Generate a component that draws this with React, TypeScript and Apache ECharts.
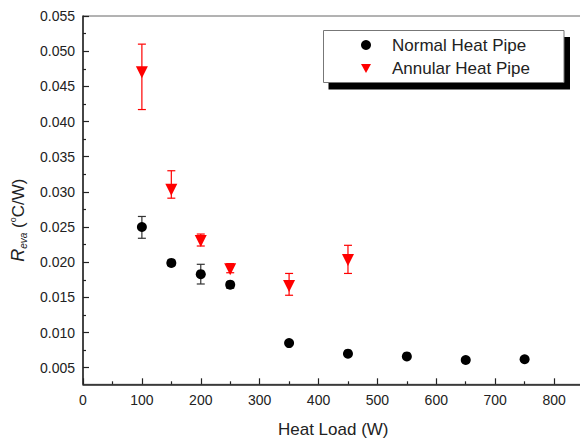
import React, { useEffect, useRef } from "react";
import * as echarts from "echarts";

const normalLoad = [100, 150, 200, 250, 350, 450, 550, 650, 750];
const normalR = [0.025, 0.0199, 0.0183, 0.0168, 0.0085, 0.007, 0.0066, 0.0061, 0.0062];
const normalLow = [0.0234, 0.0195, 0.0169, 0.0163, 0.0083, 0.0068, 0.0064, 0.0059, 0.006];
const normalHigh = [0.0265, 0.0203, 0.0197, 0.0172, 0.0087, 0.0072, 0.0068, 0.0063, 0.0064];

const annularLoad = [100, 150, 200, 250, 350, 450];
const annularR = [0.047, 0.0303, 0.023, 0.019, 0.0166, 0.0203];
const annularLow = [0.0417, 0.0291, 0.0223, 0.0185, 0.0153, 0.0184];
const annularHigh = [0.051, 0.033, 0.024, 0.0198, 0.0184, 0.0224];

const xTicks = [0, 100, 200, 300, 400, 500, 600, 700, 800];
const xMinorTicks = [50, 150, 250, 350, 450, 550, 650, 750];
const yTicks = [0.005, 0.01, 0.015, 0.02, 0.025, 0.03, 0.035, 0.04, 0.045, 0.05, 0.055];
const yMinorTicks = [0.0075, 0.0125, 0.0175, 0.0225, 0.0275, 0.0325, 0.0375, 0.0425, 0.0475, 0.0525];

const seriesNames = ["Normal Heat Pipe", "Annular Heat Pipe"];

const FONT = "'Liberation Sans', Arial, sans-serif";

function errorRenderer(color: string) {
  return (params: any, api: any) => {
    const x = api.value(0);
    const lo = api.coord([x, api.value(1)]);
    const hi = api.coord([x, api.value(2)]);
    const hw = 4;
    const style = { stroke: color, lineWidth: 1.2 };
    return {
      type: "group",
      children: [
        { type: "line", shape: { x1: lo[0], y1: lo[1], x2: hi[0], y2: hi[1] }, style },
        { type: "line", shape: { x1: lo[0] - hw, y1: lo[1], x2: lo[0] + hw, y2: lo[1] }, style },
        { type: "line", shape: { x1: hi[0] - hw, y1: hi[1], x2: hi[0] + hw, y2: hi[1] }, style },
      ],
    };
  };
}

export default function App() {
  const ref = useRef<HTMLDivElement>(null);
  useEffect(() => {
    if (!ref.current) return;
    const chart = echarts.init(ref.current, null, { renderer: "svg" });
    const xMin = 0, xMax = 850, yMin = 0.00264, yMax = 0.055;
    const axisColor = "#222";
    chart.setOption({
      animation: false,
      backgroundColor: "#fff",
      textStyle: { fontFamily: FONT },
      grid: {
        left: 83,
        top: 16,
        width: 500.5,
        height: 368.3,
        show: true,
        borderColor: "#666",
        borderWidth: 1,
        backgroundColor: "transparent",
        containLabel: false,
        outerBoundsMode: "none",
      },
      xAxis: [
        {
          type: "value",
          min: xMin,
          max: xMax,
          position: "bottom",
          name: "Heat Load (W)",
          nameLocation: "middle",
          nameGap: 37,
          nameTextStyle: { fontSize: 17, color: axisColor, fontFamily: FONT },
          axisLine: { show: true, onZero: false, lineStyle: { color: axisColor, width: 1.5 } },
          axisTick: { show: true, inside: true, length: 6, customValues: xTicks, lineStyle: { color: axisColor, width: 1.2 } },
          axisLabel: { customValues: xTicks, fontSize: 14, color: axisColor, margin: 9, fontFamily: FONT },
          splitLine: { show: false },
        },
        {
          type: "value",
          min: xMin,
          max: xMax,
          position: "bottom",
          axisLine: { show: false },
          axisTick: { show: true, inside: true, length: 3, customValues: xMinorTicks, lineStyle: { color: axisColor, width: 1.2 } },
          axisLabel: { show: false },
          splitLine: { show: false },
        },
      ],
      yAxis: [
        {
          type: "value",
          min: yMin,
          max: yMax,
          position: "left",
          name: "{r|R}{s|eva} ({o|o}{n|C/W)}",
          nameLocation: "middle",
          nameRotate: 90,
          nameGap: 55,
          nameTextStyle: {
            color: axisColor,
            fontFamily: FONT,
            padding: [0, 40, 0, 0],
            fontSize: 17,
            rich: {
              r: { fontSize: 18, fontStyle: "italic", color: axisColor, lineHeight: 20, fontFamily: FONT },
              s: { fontSize: 10, fontStyle: "italic", color: axisColor, verticalAlign: "bottom", lineHeight: 10, fontFamily: FONT },
              o: { fontSize: 9, color: axisColor, verticalAlign: "top", lineHeight: 9, fontFamily: FONT },
              n: { fontSize: 17, color: axisColor, lineHeight: 20, fontFamily: FONT },
            },
          },
          axisLine: { show: true, onZero: false, lineStyle: { color: axisColor, width: 1.5 } },
          axisTick: { show: true, inside: true, length: 6, customValues: yTicks, lineStyle: { color: axisColor, width: 1.2 } },
          axisLabel: {
            customValues: yTicks,
            fontSize: 14,
            color: axisColor,
            margin: 8,
            fontFamily: FONT,
            formatter: (v: number) => v.toFixed(3),
          },
          splitLine: { show: false },
        },
        {
          type: "value",
          min: yMin,
          max: yMax,
          position: "left",
          axisLine: { show: false },
          axisTick: { show: true, inside: true, length: 3, customValues: yMinorTicks, lineStyle: { color: axisColor, width: 1.2 } },
          axisLabel: { show: false },
          splitLine: { show: false },
        },
      ],
      legend: {
        data: [
          { name: seriesNames[0], icon: "circle" },
          { name: seriesNames[1], icon: "path://M0,0L10,0L5,9Z" },
        ],
        orient: "vertical",
        left: 361,
        top: 36,
        padding: 0,
        itemWidth: 10,
        itemHeight: 10,
        itemGap: 5.6,
        itemStyle: { opacity: 1 },
        textStyle: { fontSize: 17, color: axisColor, fontFamily: FONT, padding: [0, 0, 0, 16], lineHeight: 18 },
      },
      graphic: [
        { type: "rect", shape: { x: 328.5, y: 37, width: 241.5, height: 52.5 }, style: { fill: "#000" }, z: 1 },
        { type: "rect", shape: { x: 323.5, y: 30.5, width: 240.5, height: 52 }, style: { fill: "#fff", stroke: "#777", lineWidth: 1 }, z: 2 },
      ],
      series: [
        {
          name: "Normal error",
          type: "custom",
          xAxisIndex: 0,
          yAxisIndex: 0,
          renderItem: errorRenderer("#333"),
          encode: { x: 0, y: [1, 2] },
          data: normalLoad.map((x, i) => [x, normalLow[i], normalHigh[i]]),
          z: 3,
        },
        {
          name: "Annular error",
          type: "custom",
          xAxisIndex: 0,
          yAxisIndex: 0,
          renderItem: errorRenderer("#ff0000"),
          encode: { x: 0, y: [1, 2] },
          data: annularLoad.map((x, i) => [x, annularLow[i], annularHigh[i]]),
          z: 3,
        },
        {
          name: seriesNames[0],
          type: "scatter",
          xAxisIndex: 0,
          yAxisIndex: 0,
          symbol: "circle",
          symbolSize: 10,
          itemStyle: { color: "#000", opacity: 1 },
          data: normalLoad.map((x, i) => [x, normalR[i]]),
          z: 5,
        },
        {
          name: seriesNames[1],
          type: "scatter",
          xAxisIndex: 0,
          yAxisIndex: 0,
          symbol: "triangle",
          symbolRotate: 180,
          symbolSize: 12,
          itemStyle: { color: "#ff0000", opacity: 1 },
          data: annularLoad.map((x, i) => [x, annularR[i]]),
          z: 5,
        },
      ],
    });
    return () => chart.dispose();
  }, []);
  return (
    <div style={{ position: "absolute", left: 0, top: 0, width: 580, height: 439, overflow: "hidden", background: "#fff" }}>
      <div ref={ref} style={{ width: 600, height: 439 }} />
    </div>
  );
}
